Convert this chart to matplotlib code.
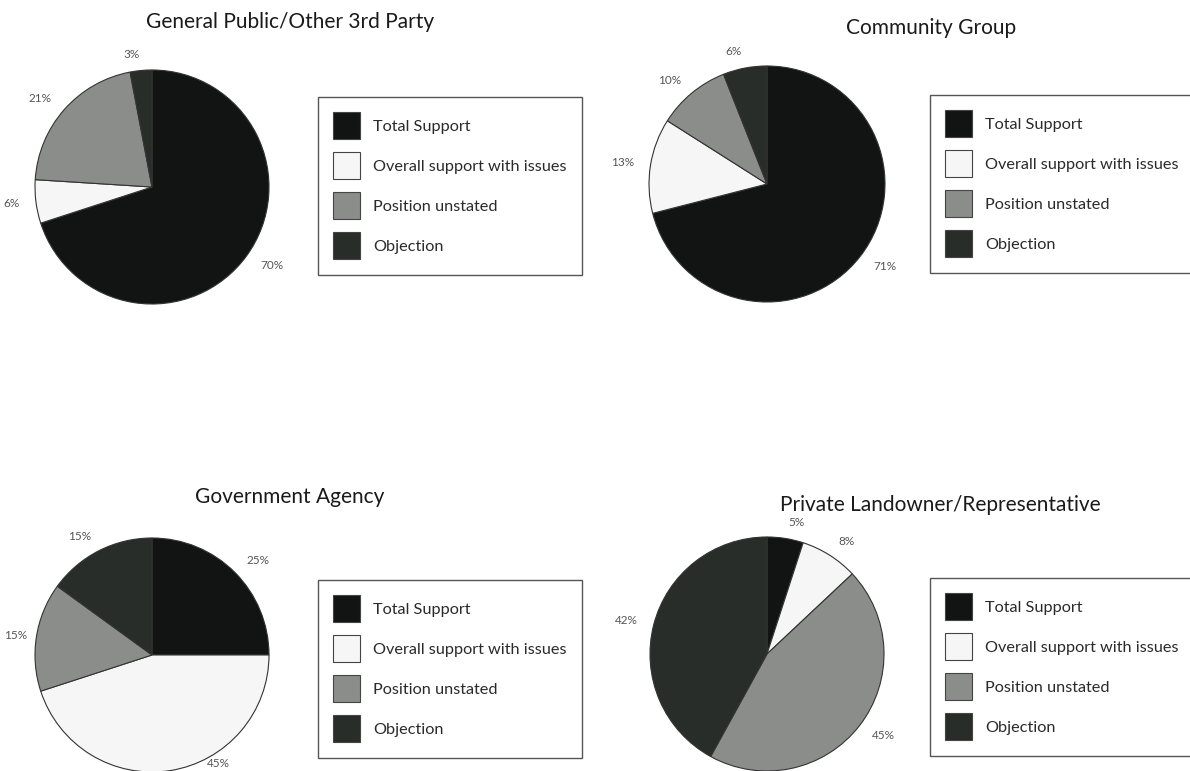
import numpy as np
import matplotlib
matplotlib.use("Agg")
import matplotlib.pyplot as plt
from matplotlib.patches import Patch

plt.rcParams['font.family'] = ['Lato', 'DejaVu Sans']

categories = ["Total Support", "Overall support with issues", "Position unstated", "Objection"]
colors = ["#121413", "#f6f6f6", "#8b8d8b", "#282d2a"]

titles = ["General Public/Other 3rd Party", "Community Group",
          "Government Agency", "Private Landowner/Representative"]
public_vals = [70, 6, 21, 3]
community_vals = [71, 13, 10, 6]
government_vals = [25, 45, 15, 15]
landowner_vals = [5, 8, 45, 42]
all_vals = [public_vals, community_vals, government_vals, landowner_vals]

W, H = 1190, 771
fig = plt.figure(figsize=(W / 100, H / 100), dpi=100)
fig.patch.set_facecolor("white")

# pixel layout: pie centre/radius, legend top-left, title centre
pie_boxes = [(152, 187, 117), (767, 184, 118), (152, 655, 117), (767, 654, 117)]
legend_pos = [(318, 97), (930, 95), (318, 580), (930, 578)]
title_pos = [(290, 22), (931, 28), (290, 497), (940, 505)]

handles = [Patch(facecolor=c, edgecolor="#444444", linewidth=0.8) for c in colors]

pies = []
for i, vals in enumerate(all_vals):
    cx, cy, r = pie_boxes[i]
    ax = fig.add_axes([(cx - r) / W, (H - cy - r) / H, 2 * r / W, 2 * r / H])
    labels = [f"{v}%" for v in vals]
    wedges, texts = ax.pie(vals, colors=colors, startangle=90, counterclock=False,
                           labels=labels, labeldistance=1.14,
                           wedgeprops=dict(edgecolor="#333333", linewidth=0.8),
                           textprops=dict(fontsize=8.5, color="#555555"))
    ax.set_xlim(-1, 1)
    ax.set_ylim(-1, 1)
    ax.set_aspect("equal")
    pies.append((wedges, texts))

    tx, ty = title_pos[i]
    fig.text(tx / W, 1 - ty / H, titles[i], ha="center", va="center",
             fontsize=15, color="#1a1a1a")

    lx, ly = legend_pos[i]
    leg = fig.legend(handles, categories, loc="upper left",
                     bbox_to_anchor=(lx / W, 1 - ly / H), bbox_transform=fig.transFigure,
                     borderaxespad=0, fontsize=11.7, frameon=True, fancybox=False,
                     handlelength=1.66, handleheight=2.18, handletextpad=0.8,
                     labelspacing=0.8, borderpad=0.95, labelcolor="#2a2a2a")
    leg.get_frame().set_edgecolor("#555555")
    leg.get_frame().set_linewidth(1.0)
    leg.get_frame().set_alpha(1)

# pull percentage labels back inside the picture if they fall off an edge
fig.canvas.draw()
renderer = fig.canvas.get_renderer()
for wedges, texts in pies:
    for w, t in zip(wedges, texts):
        ang = (w.theta1 + w.theta2) / 2
        dist = 1.14
        for _ in range(40):
            bb = t.get_window_extent(renderer)
            if bb.x0 >= 2 and bb.y0 >= 2:
                break
            if dist > 1.04:
                dist -= 0.02
            else:
                ang += 2 if np.cos(np.radians(ang)) > 0 else -2
            t.set_position((dist * np.cos(np.radians(ang)), dist * np.sin(np.radians(ang))))

fig.savefig("out.png", dpi=100)
